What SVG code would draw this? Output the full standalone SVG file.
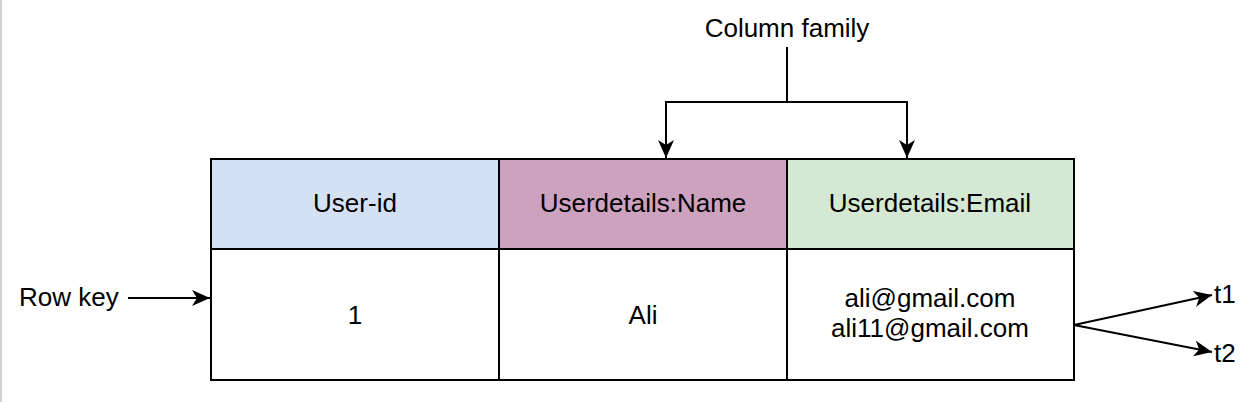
<svg xmlns="http://www.w3.org/2000/svg" width="1258" height="402" viewBox="0 0 1258 402">
<style>
text{font-family:"Liberation Sans",Arial,sans-serif;font-size:26px;fill:#000}
.c{text-anchor:middle}
.cell{stroke:#000;stroke-width:2}
.ln{fill:none;stroke:#000;stroke-width:2}
</style>
<defs>
<marker id="ah" markerUnits="userSpaceOnUse" markerWidth="18" markerHeight="16" refX="18" refY="8" orient="auto" viewBox="0 0 18 16">
<path d="M0,0 L18,8 L0,16 L5,8 Z" fill="#000"/>
</marker>
</defs>
<rect x="0" y="0" width="1258" height="402" fill="#fff"/>
<rect x="0" y="0" width="2" height="402" fill="#d0d0d0"/>
<g id="col-family-label"><text class="c" x="787" y="37">Column family</text></g>
<g id="row-key-label"><text x="19" y="306">Row key</text></g>
<g id="user-id"><rect class="cell" x="211" y="159" width="288" height="90" fill="#d4e1f5"/><text class="c" x="355" y="212">User-id</text></g>
<g id="name-header"><rect class="cell" x="499" y="159" width="288" height="90" fill="#cda2be"/><text class="c" x="643" y="212">Userdetails:Name</text></g>
<g id="email-header"><rect class="cell" x="787" y="159" width="287" height="90" fill="#d5e8d4"/><text class="c" x="930" y="212">Userdetails:Email</text></g>
<g id="cell-1"><rect class="cell" x="211" y="249" width="288" height="131" fill="#fff"/><text class="c" x="355" y="324">1</text></g>
<g id="cell-ali"><rect class="cell" x="499" y="249" width="288" height="131" fill="#fff"/><text class="c" x="643" y="324">Ali</text></g>
<g id="cell-email"><rect class="cell" x="787" y="249" width="287" height="131" fill="#fff"/><text class="c" x="930" y="307">ali@gmail.com</text><text class="c" x="930" y="337">ali11@gmail.com</text></g>
<g id="t1"><text x="1214" y="303">t1</text></g>
<g id="t2"><text x="1214" y="362">t2</text></g>
<g id="connectors">
<path class="ln" d="M787,47 V102"/>
<path class="ln" d="M787,102 H666 V158" marker-end="url(#ah)"/>
<path class="ln" d="M787,102 H907 V158" marker-end="url(#ah)"/>
<path class="ln" d="M128,298 H210" marker-end="url(#ah)"/>
<path class="ln" d="M1074,325 L1212,295" marker-end="url(#ah)"/>
<path class="ln" d="M1074,325 L1212,352" marker-end="url(#ah)"/>
</g>
</svg>
